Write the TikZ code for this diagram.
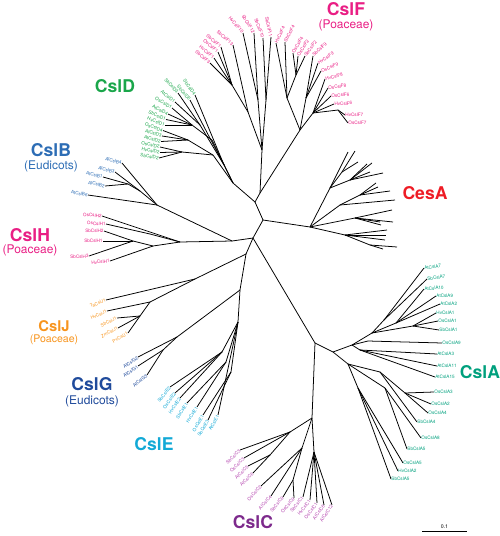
\documentclass[tikz,border=0pt]{standalone}
\usepackage{fontspec}
\setmainfont{TeX Gyre Heros}
\usepackage{xcolor}
\usepackage{tikz}
\definecolor{fpink}{HTML}{E91E84}
\definecolor{dgreen}{HTML}{1AA64A}
\definecolor{bblue}{HTML}{2D6DB5}
\definecolor{jorange}{HTML}{F7941D}
\definecolor{gblue}{HTML}{1F4A9B}
\definecolor{ecyan}{HTML}{12A9D6}
\definecolor{cpurple}{HTML}{7D2A8C}
\definecolor{cleaf}{HTML}{B548B0}
\definecolor{ateal}{HTML}{00A07D}
\definecolor{cesred}{HTML}{EE1C25}
\tikzset{
  branch/.style={line width=1.1pt, black},
  leaflabel/.style={inner sep=0.4pt, font=\fontsize{6.6}{7}\selectfont},
  cladelabel/.style={inner sep=0pt, font=\fontsize{25}{28}\selectfont\bfseries},
  groupnote/.style={inner sep=0pt, font=\fontsize{17}{19}\selectfont},
  scalelabel/.style={inner sep=1pt, font=\fontsize{7.5}{8}\selectfont}
}
\newcommand{\twig}[4]{\coordinate (#2) at (#3,-#4); \draw[branch] (#1) -- (#2);}
\newcommand{\tipR}[6]{\twig{#1}{#2}{#3}{#4}\node[leaflabel, anchor=west, rotate=#5] (#2-lab) at (#2) {#6};}
\newcommand{\tipL}[6]{\twig{#1}{#2}{#3}{#4}\node[leaflabel, anchor=east, rotate=#5] (#2-lab) at (#2) {#6};}

\begin{document}
\begin{tikzpicture}[x=0.5mm, y=0.5mm]
\useasboundingbox (0,0) rectangle (500,-536);

\coordinate (ctr) at (263,-220);
\twig{ctr}{ces}{310}{227}
\twig{ctr}{fd}{255}{202}
\twig{fd}{dR}{233}{183}
\twig{fd}{f0}{260}{193}
\twig{ctr}{b0}{253}{238}
\twig{b0}{bh}{232}{241}
\twig{bh}{bR}{157}{205}
\twig{bh}{hR}{180}{242}
\twig{b0}{jge}{246}{254}
\twig{jge}{jR}{195}{279}
\twig{jge}{ge}{240}{290}
\twig{ge}{gR}{177}{337}
\twig{ge}{eR}{238}{322}
\twig{b0}{ac1}{315}{343}
\twig{ac1}{ac2}{333}{352}
\twig{ac1}{cR}{312}{418}
\twig{ac2}{aR}{352}{345}
\twig{ac2}{aL}{348}{364}

\twig{ces}{cu}{330}{188}
\twig{cu}{ce1}{348}{152}
\twig{cu}{cu1}{342}{172}
\twig{cu1}{ce2}{355}{151}
\twig{cu1}{ce3}{358}{162}
\twig{cu}{cu2}{350}{180}
\twig{cu2}{ce4}{367}{164}
\twig{cu2}{ce5}{372}{163}
\twig{cu2}{ce6}{370}{172}
\twig{cu2}{ce7}{383}{173}
\twig{ces}{cm}{340}{205}
\twig{cm}{cm1}{360}{195}
\twig{cm1}{ce8}{378}{187}
\twig{cm1}{ce9}{376}{183}
\twig{cm1}{ce10}{390}{191}
\twig{cm}{ce11}{395}{200}
\twig{ces}{cm2}{355}{218}
\twig{cm2}{ce12}{392}{210}
\twig{cm2}{ce13}{393}{222}
\twig{cm2}{ce14}{380}{222}
\twig{cm2}{ce15}{381}{225}
\twig{ces}{cl}{345}{235}
\twig{cl}{ce16}{387}{230}
\twig{cl}{ce17}{386}{235}
\twig{cl}{ce18}{385}{240}
\twig{cl}{cl2}{370}{245}
\twig{cl2}{ce19}{397}{247}
\twig{cl2}{ce20}{383}{249}

\begin{scope}[leaflabel/.append style={text=fpink}]
\twig{f0}{fL}{262}{150}
\twig{fL}{fL1}{248}{112}
\tipL{fL1}{SbCslF13}{233}{45}{-42}{SbCslF13}
\twig{fL1}{fL1a}{232}{85}
\tipL{fL1a}{SbCslF1}{221}{47}{-40}{SbCslF1}
\tipL{fL1a}{OsCslF1}{218}{52}{-40}{OsCslF1}
\tipL{fL1a}{HvCslF1}{214}{58}{-40}{HvCslF1}
\tipL{fL1a}{SbCslF3}{210}{63}{-40}{SbCslF3}
\twig{fL}{fL2}{258}{100}
\tipL{fL2}{HvCslF10}{243}{33}{-50}{HvCslF10}
\tipL{fL2}{SbCslF12}{254}{33}{-58}{SbCslF12}
\twig{fL}{fL3}{266}{100}
\tipL{fL3}{SbCslF10}{263}{38}{-70}{SbCslF10}
\tipL{fL3}{SbCslF11}{271}{37}{-78}{SbCslF11}
\twig{f0}{fR}{300}{130}
\twig{fR}{fR1}{287}{98}
\tipR{fR1}{HvCslF4}{276}{43}{65}{HvCslF4}
\tipR{fR1}{SbCslF4}{285}{42}{62}{SbCslF4}
\twig{fR1}{fR2}{296}{75}
\tipR{fR2}{OsCslF4}{293}{53}{60}{OsCslF4}
\tipR{fR2}{OsCslF2}{298}{56}{58}{OsCslF2}
\tipR{fR2}{SbCslF2}{305}{56}{54}{SbCslF2}
\twig{fR}{fR3}{306}{98}
\tipR{fR3}{SbCslF9}{313}{56}{45}{SbCslF9}
\tipR{fR3}{HvCslF9}{318}{63}{33}{HvCslF9}
\tipR{fR3}{OsCslF9}{321}{71}{22}{OsCslF9}
\twig{fR}{fR4}{313}{113}
\tipR{fR4}{HvCslF8}{325}{79}{14}{HvCslF8}
\tipR{fR4}{OsCslF8}{328}{88}{8}{OsCslF8}
\tipR{fR4}{OsCslF6}{331}{96}{5}{OsCslF6}
\tipR{fR4}{HvCslF6}{334}{104}{3}{HvCslF6}
\twig{fR4}{fR5}{338}{110}
\tipR{fR5}{HvCslF7}{345}{115}{0}{HvCslF7}
\tipR{fR5}{OsCslF7}{348}{123}{0}{OsCslF7}
\end{scope}

\begin{scope}[leaflabel/.append style={text=dgreen}]
\twig{dR}{dA}{213}{155}
\twig{dA}{dA1}{188}{140}
\tipL{dA1}{OsCslD4}{163}{130.5}{-19}{OsCslD4}
\tipL{dA1}{AtCslD3}{162}{136}{-17}{AtCslD3}
\tipL{dA1}{AtCslD2}{161}{141.5}{-15}{AtCslD2}
\twig{dA}{dA2}{182}{152}
\tipL{dA2}{OsCslD2}{160}{147}{-13}{OsCslD2}
\tipL{dA2}{HvCslD2}{160}{152.5}{-11}{HvCslD2}
\tipL{dA2}{SbCslD2}{159}{158}{-9}{SbCslD2}
\twig{dR}{dB}{212}{140}
\twig{dB}{dB1}{192}{125}
\tipL{dB1}{OsCslD1}{172}{108}{-30}{OsCslD1}
\tipL{dB1}{AtCslD4}{168}{114}{-27}{AtCslD4}
\tipL{dB1}{SbCslD1}{166}{119.5}{-24}{SbCslD1}
\tipL{dB1}{HvCslD1}{165}{125}{-21}{HvCslD1}
\twig{dR}{dC}{224}{165}
\tipL{dC}{SbCslD4}{195}{95}{-55}{SbCslD4}
\tipL{dC}{SbCslD5}{190}{100}{-50}{SbCslD5}
\twig{dC}{dC1}{200}{125}
\tipL{dC1}{SbCslD3}{178}{93}{-48}{SbCslD3}
\tipL{dC1}{AtCslD1}{175}{102}{-38}{AtCslD1}
\end{scope}

\begin{scope}[leaflabel/.append style={text=bblue}]
\tipL{bR}{AtCslB4}{122}{163}{-15}{AtCslB4}
\twig{bR}{bA}{140}{191}
\tipL{bA}{AtCslB3}{115}{172}{-15}{AtCslB3}
\twig{bA}{bB}{128}{184}
\tipL{bB}{AtCslB1}{103}{177}{-13}{AtCslB1}
\tipL{bB}{AtCslB2}{105}{186}{-12}{AtCslB2}
\tipL{bR}{AtCslB6}{88}{195}{-10}{AtCslB6}
\end{scope}

\begin{scope}[leaflabel/.append style={text=fpink}]
\tipL{hR}{OsCslH2}{102}{216}{-5}{OsCslH2}
\twig{hR}{hA}{150}{234}
\tipL{hA}{OsCslH1}{106}{224}{-3}{OsCslH1}
\twig{hR}{hC}{153}{246}
\twig{hC}{hB}{133}{241}
\tipL{hB}{SbCslH2}{104}{231}{0}{SbCslH2}
\tipL{hB}{SbCslH1}{103}{241}{0}{SbCslH1}
\tipL{hB}{SbCslH3}{89}{256}{3}{SbCslH3}
\tipL{hC}{HvCslH1}{110}{261}{5}{HvCslH1}
\end{scope}

\begin{scope}[leaflabel/.append style={text=jorange}]
\tipL{jR}{TaCslJ1}{106}{300}{22}{TaCslJ1}
\twig{jR}{jA}{150}{302}
\tipL{jA}{HvCslJ1}{107}{311}{24}{HvCslJ1}
\twig{jA}{jB}{140}{316}
\tipL{jB}{SbCslJ1}{117}{318}{25}{SbCslJ1}
\tipL{jB}{ZmCslJ1}{118}{328}{27}{ZmCslJ1}
\tipL{jB}{PvCslJ1}{128}{333}{30}{PvCslJ1}
\end{scope}

\begin{scope}[leaflabel/.append style={text=gblue}]
\tipL{gR}{AtCslG2}{138}{357}{35}{AtCslG2}
\twig{gR}{gA}{163}{350}
\tipL{gA}{AtCslG1}{138}{366}{35}{AtCslG1}
\tipL{gA}{AtCslG3}{147}{375}{40}{AtCslG3}
\end{scope}

\begin{scope}[leaflabel/.append style={text=ecyan}]
\twig{eR}{eA}{222}{352}
\tipL{eA}{SbCslE2}{170}{387}{52}{SbCslE2}
\tipL{eA}{OsCslE2}{175}{393}{54}{OsCslE2}
\tipL{eA}{HvCslE2}{180}{398}{56}{HvCslE2}
\twig{eR}{eB}{226}{362}
\tipL{eB}{SbCslE1}{187}{403}{58}{SbCslE1}
\tipL{eB}{HvCslE1}{197}{407}{58}{HvCslE1}
\twig{eR}{eC}{231}{372}
\tipL{eC}{OsCslE1}{203}{415}{60}{OsCslE1}
\tipL{eC}{SbCslE3}{208}{420}{60}{SbCslE3}
\tipL{eR}{AtCslE1}{218}{415}{62}{AtCslE1}
\end{scope}

\begin{scope}[leaflabel/.append style={text=cleaf}]
\twig{cR}{cA}{290}{432}
\tipL{cA}{SbCslC3}{240}{450}{45}{SbCslC3}
\tipL{cA}{OsCslC3}{244}{458}{45}{OsCslC3}
\twig{cA}{cB}{270}{455}
\tipL{cB}{AtCslC5}{248}{466}{45}{AtCslC5}
\tipL{cB}{AtCslC6}{253}{473}{45}{AtCslC6}
\twig{cR}{cC}{302}{448}
\tipL{cC}{OsCslC2}{261}{486}{47}{OsCslC2}
\tipL{cC}{AtCslC4}{271}{496}{48}{AtCslC4}
\twig{cC}{cD}{293}{480}
\tipL{cD}{SbCslC9}{283}{497}{50}{SbCslC9}
\tipL{cD}{OsCslC9}{294}{498}{50}{OsCslC9}
\twig{cR}{cE}{314}{452}
\tipL{cE}{SbCslC1}{303}{497}{50}{SbCslC1}
\tipL{cE}{HvCslC1}{310}{500}{52}{HvCslC1}
\tipL{cE}{OsCslC1}{317}{503}{52}{OsCslC1}
\tipL{cE}{AtCslC8}{324}{505}{54}{AtCslC8}
\tipL{cE}{AtCslC12}{332}{505}{56}{AtCslC12}
\end{scope}

\begin{scope}[leaflabel/.append style={text=ateal}]
\twig{aR}{aU}{372}{333}
\twig{aU}{aU1}{384}{320}
\tipR{aU1}{AtCslA7}{424}{268}{8}{AtCslA7}
\tipR{aU1}{SbCslA7}{427}{279}{8}{SbCslA7}
\twig{aU}{aU2}{396}{323}
\tipR{aU2}{AtCslA10}{424}{289}{4}{AtCslA10}
\tipR{aU2}{AtCslA9}{436}{296}{2}{AtCslA9}
\tipR{aU2}{AtCslA2}{440}{304}{2}{AtCslA2}
\twig{aU}{aM}{413}{326}
\tipR{aM}{HvCslA1}{436}{313}{1}{HvCslA1}
\tipR{aM}{OsCslA1}{438}{321}{0}{OsCslA1}
\tipR{aM}{SbCslA1}{439}{330}{0}{SbCslA1}
\twig{aR}{aN}{368}{341}
\tipR{aN}{OsCslA9}{442}{343}{0}{OsCslA9}
\twig{aR}{aO}{360}{350}
\tipR{aO}{AtCslA3}{437}{354}{0}{AtCslA3}
\tipR{aO}{AtCslA11}{437}{366}{0}{AtCslA11}
\tipR{aO}{AtCslA15}{435}{377}{0}{AtCslA15}
\twig{aL}{aL1}{380}{372}
\twig{aL1}{aL1a}{405}{393}
\tipR{aL1a}{OsCslA3}{434}{392}{0}{OsCslA3}
\tipR{aL1a}{OsCslA2}{431}{404}{0}{OsCslA2}
\tipR{aL1a}{OsCslA4}{428}{413}{0}{OsCslA4}
\tipR{aL1}{SbCslA4}{417}{422}{0}{SbCslA4}
\twig{aL}{aL2}{385}{388}
\tipR{aL2}{OsCslA8}{421}{438}{0}{OsCslA8}
\tipR{aL2}{SbCslA5}{407}{449}{0}{SbCslA5}
\twig{aL}{aL3}{358}{388}
\tipR{aL3}{OsCslA5}{403}{463}{0}{OsCslA5}
\tipR{aL3}{HvCslA2}{398}{471}{0}{HvCslA2}
\tipR{aL3}{SbCslA5b}{391}{479}{0}{SbCslA5}
\end{scope}

\node[cladelabel, text=fpink] (cslF) at (346,-9) {CslF};
\node[groupnote, text=fpink] (cslFnote) at (346,-25) {(Poaceae)};
\node[cladelabel, text=dgreen] (cslD) at (115,-86) {CslD};
\node[cladelabel, text=bblue] (cslB) at (51,-150) {CslB};
\node[groupnote, text=bblue] (cslBnote) at (51,-166) {(Eudicots)};
\node[cladelabel, text=fpink] (cslH) at (30,-235) {CslH};
\node[groupnote, text=fpink] (cslHnote) at (30,-250) {(Poaceae)};
\node[cladelabel, text=jorange, font=\fontsize{21}{24}\selectfont\bfseries] (cslJ) at (54,-326) {CslJ};
\node[groupnote, text=jorange, font=\fontsize{15}{17}\selectfont] (cslJnote) at (54,-340) {(Poaceae)};
\node[cladelabel, text=gblue] (cslG) at (92,-384) {CslG};
\node[groupnote, text=gblue] (cslGnote) at (92,-401) {(Eudicots)};
\node[cladelabel, text=ecyan] (cslE) at (154,-444) {CslE};
\node[cladelabel, text=cpurple] (cslC) at (253,-522) {CslC};
\node[cladelabel, text=ateal] (cslA) at (480,-372) {CslA};
\node[cladelabel, text=cesred] (cesA) at (425,-193) {CesA};

\coordinate (sbL) at (422,-531);
\coordinate (sbR) at (467,-531);
\draw[branch] (sbL) -- node[scalelabel, above=2pt] (sbT) {0.1} (sbR);
\end{tikzpicture}
\end{document}
